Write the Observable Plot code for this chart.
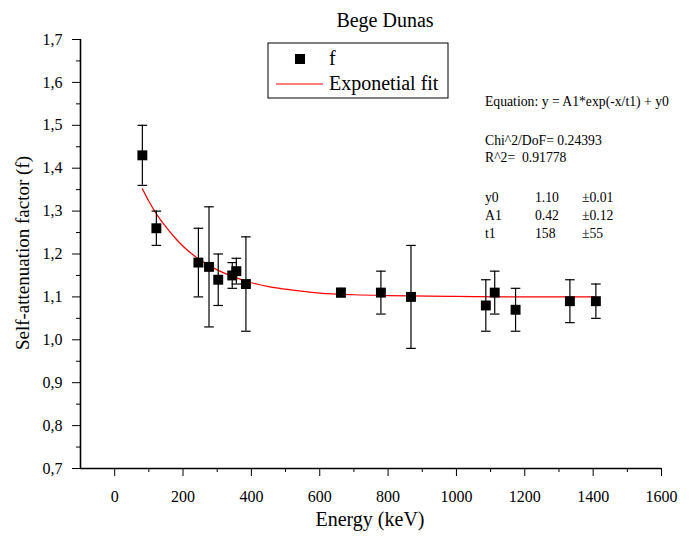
<!DOCTYPE html>
<html>
<head>
<meta charset="utf-8">
<script src="https://cdn.jsdelivr.net/npm/d3@7"></script>
<script src="https://cdn.jsdelivr.net/npm/@observablehq/plot@0.6"></script>
<style>
  html, body { margin: 0; padding: 0; background: #fff; }
  #chart svg { display: block; }
</style>
</head>
<body>
<div id="chart"></div>
<script>
// ---- data ----
const energy   = [81, 122, 245, 276, 303, 344, 356, 384, 662, 779, 867, 1086, 1112, 1173, 1332, 1408];
const factor   = [1.43, 1.26, 1.18, 1.17, 1.14, 1.15, 1.16, 1.13, 1.11, 1.11, 1.10, 1.08, 1.11, 1.07, 1.09, 1.09];
const errLow   = [1.36, 1.22, 1.10, 1.03, 1.08, 1.12, 1.13, 1.02, 1.10, 1.06, 0.98, 1.02, 1.06, 1.02, 1.04, 1.05];
const errHigh  = [1.50, 1.30, 1.26, 1.31, 1.20, 1.18, 1.19, 1.24, 1.12, 1.16, 1.22, 1.14, 1.16, 1.12, 1.14, 1.13];

const fitEnergy = [81, 100, 125, 150, 175, 200, 250, 300, 350, 400, 450, 500, 600, 700, 800, 1000, 1200, 1408];
const fitFactor = [1.352, 1.323, 1.290, 1.263, 1.239, 1.218, 1.186, 1.163, 1.146, 1.133, 1.124, 1.118, 1.109, 1.105, 1.103, 1.101, 1.100, 1.100];

const yTicks  = [0.7, 0.8, 0.9, 1.0, 1.1, 1.2, 1.3, 1.4, 1.5, 1.6, 1.7];
const yMinor  = [0.75, 0.85, 0.95, 1.05, 1.15, 1.25, 1.35, 1.45, 1.55, 1.65];
const xTicks  = [0, 200, 400, 600, 800, 1000, 1200, 1400, 1600];
const xMinor  = [100, 300, 500, 700, 900, 1100, 1300, 1500];

const titleText  = "Bege Dunas";
const xLabelText = "Energy (keV)";
const yLabelText = "Self-attenuation factor (f)";
const legendLabels = ["f", "Exponetial fit"];
const equationLines = ["Equation: y = A1*exp(-x/t1) + y0", "Chi^2/DoF= 0.24393", "R^2=  0.91778"];
const paramNames  = ["y0", "A1", "t1"];
const paramValues = ["1.10", "0.42", "158"];
const paramErrors = ["\u00b10.01", "\u00b10.12", "\u00b155"];

// ---- build tables ----
const points = energy.map((E, i) => ({E, f: factor[i], lo: errLow[i], hi: errHigh[i]}));
const fit = fitEnergy.map((E, i) => ({E, f: fitFactor[i]}));

const capSymbol = {
  draw(ctx, size) {
    const r = Math.sqrt(size / Math.PI);
    ctx.moveTo(-r, 0);
    ctx.lineTo(r, 0);
  }
};

const serif = '"Liberation Serif", "Times New Roman", Times, serif';
const comma = d => d.toFixed(1).replace(".", ",");

const plot = Plot.plot({
  width: 689,
  height: 539,
  marginLeft: 80,
  marginRight: 28,
  marginTop: 39,
  marginBottom: 71,
  style: {fontFamily: serif, fontSize: "16px", color: "black", background: "white", overflow: "visible"},
  x: {domain: [-100, 1600]},
  y: {domain: [0.7, 1.7]},
  marks: [
    Plot.axisY(yTicks, {tickSize: 8, tickPadding: 10, tickFormat: comma, label: null, fontSize: 16}),
    Plot.axisY(yMinor, {tickSize: 4, tickFormat: () => "", label: null}),
    Plot.axisX(xTicks, {tickSize: 8, tickPadding: 14, tickFormat: d => String(d), label: null, fontSize: 16}),
    Plot.axisX(xMinor, {tickSize: 4, tickFormat: () => "", label: null}),
    Plot.ruleX([-100], {strokeWidth: 1.6}),
    Plot.ruleY([0.7], {strokeWidth: 1.6}),
    Plot.line(fit, {x: "E", y: "f", stroke: "red", strokeWidth: 1.2, curve: "monotone-x"}),
    Plot.ruleX(points, {x: "E", y1: "lo", y2: "hi", stroke: "black", strokeWidth: 1.2}),
    Plot.dot(points, {x: "E", y: "lo", symbol: capSymbol, r: 4.8, stroke: "black", strokeWidth: 1.2, fill: "none"}),
    Plot.dot(points, {x: "E", y: "hi", symbol: capSymbol, r: 4.8, stroke: "black", strokeWidth: 1.2, fill: "none"}),
    Plot.dot(points, {x: "E", y: "f", symbol: "square", r: 5.6, fill: "black", stroke: "none"})
  ]
});

document.getElementById("chart").appendChild(plot);

// ---- annotations (title, axis labels, legend, fit results) ----
const svg = d3.select(plot);
const g = svg.append("g").attr("font-family", serif).attr("fill", "black").attr("text-anchor", "start");

g.append("text").attr("x", 385).attr("y", 27).attr("text-anchor", "middle")
  .attr("font-size", 20).text(titleText);
g.append("text").attr("x", 370).attr("y", 526).attr("text-anchor", "middle")
  .attr("font-size", 20).text(xLabelText);
g.append("text").attr("transform", "translate(29,253) rotate(-90)").attr("text-anchor", "middle")
  .attr("font-size", 19).text(yLabelText);

// legend
const lg = g.append("g");
lg.append("rect").attr("x", 268).attr("y", 43).attr("width", 180).attr("height", 55)
  .attr("fill", "white").attr("stroke", "black").attr("stroke-width", 1);
lg.append("rect").attr("x", 295).attr("y", 54).attr("width", 10).attr("height", 10).attr("fill", "black");
lg.append("line").attr("x1", 276).attr("x2", 323).attr("y1", 84).attr("y2", 84)
  .attr("stroke", "red").attr("stroke-width", 1.2);
lg.append("text").attr("x", 329).attr("y", 65).attr("font-size", 20).attr("text-anchor", "start").text(legendLabels[0]);
lg.append("text").attr("x", 329).attr("y", 90).attr("font-size", 20).attr("text-anchor", "start").text(legendLabels[1]);

// fit results
const eq = g.append("g").attr("font-size", 13.7).attr("text-anchor", "start").style("white-space", "pre");
const eqY = [106, 145, 162];
equationLines.forEach((t, i) => {
  eq.append("text").attr("x", 485).attr("y", eqY[i]).attr("text-anchor", "start").text(t);
});
const parY = [202, 220, 238];
paramNames.forEach((t, i) => {
  eq.append("text").attr("x", 485).attr("y", parY[i]).attr("text-anchor", "start").text(t);
  eq.append("text").attr("x", 535).attr("y", parY[i]).attr("text-anchor", "start").text(paramValues[i]);
  eq.append("text").attr("x", 582).attr("y", parY[i]).attr("text-anchor", "start").text(paramErrors[i]);
});
</script>
</body>
</html>
